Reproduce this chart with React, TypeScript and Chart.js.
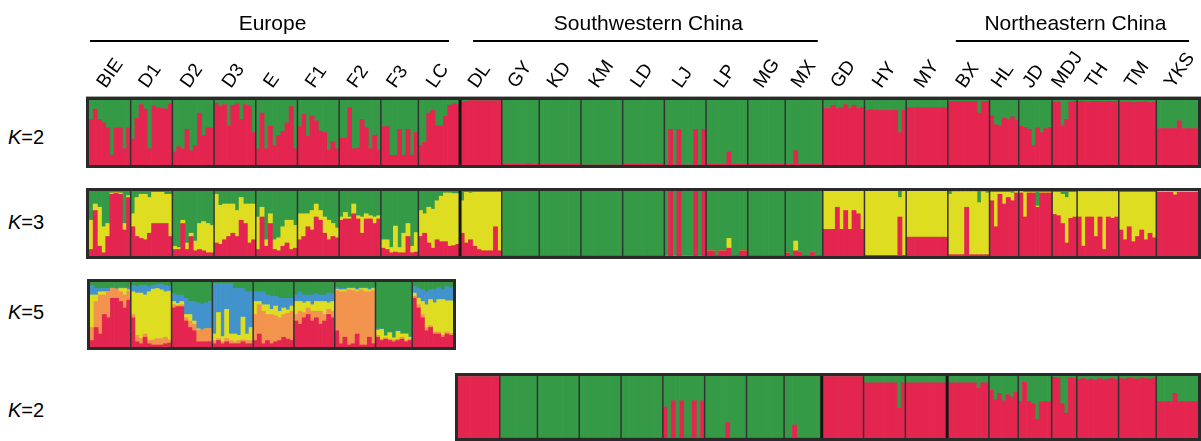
import React, { useEffect, useRef } from "react";
import { Chart, registerables } from "chart.js";

Chart.register(...registerables);

// ---------------- populations / groups ----------------
const EUROPE = ["BIE", "D1", "D2", "D3", "E", "F1", "F2", "F3", "LC"];
const SW_CHINA = ["DL", "GY", "KD", "KM", "LD", "LJ", "LP", "MG", "MX"];
const CENTRAL = ["GD", "HY", "MY"];
const NE_CHINA = ["BX", "HL", "JD", "MDJ", "TH", "TM", "YKS"];
const ALL_POPS = [...EUROPE, ...SW_CHINA, ...CENTRAL, ...NE_CHINA];
const CHINA_POPS = [...SW_CHINA, ...CENTRAL, ...NE_CHINA];

const GROUP_LABELS = ["Europe", "Southwestern China", "Northeastern China"];
const GROUP_FIRST = ["BIE", "DL", "BX"];
const GROUP_LAST = ["LC", "MX", "YKS"];

const ROW_K = ["2", "3", "5", "2"];

// ---------------- membership values (% per individual, per population) ----------------
// K=2, all populations: red cluster (green = remainder)
const K2_RED = [
  [70, 86, 70, 65, 57, 15, 57, 57, 25, 57], // BIE
  [40, 72, 93, 86, 25, 91, 88, 87, 86, 94], // D1
  [20, 28, 25, 55, 22, 30, 80, 45, 57, 57], // D2
  [95, 90, 93, 60, 92, 94, 70, 93, 91, 50], // D3
  [25, 80, 25, 60, 30, 45, 52, 65, 90, 25], // E
  [59, 78, 44, 76, 68, 52, 50, 23, 36, 25], // F1
  [41, 41, 88, 25, 26, 70, 57, 25, 46, 23], // F2
  [59, 59, 15, 15, 55, 15, 55, 15, 50], // F3
  [30, 35, 80, 84, 60, 60, 75, 92, 94, 93], // LC
  [97, 98, 99, 99, 99, 99, 99, 99, 99, 99], // DL
  [1, 1, 1, 1, 1, 1, 2, 1, 1], // GY
  [1, 1, 1, 1, 1, 1, 1, 1, 1, 1], // KD
  [0, 0, 0, 0, 0, 0, 0, 0, 0, 0], // KM
  [1, 1, 1, 1, 1, 1, 1, 1, 1, 1], // LD
  [0, 55, 0, 55, 0, 0, 0, 55, 0, 55], // LJ
  [1, 1, 1, 1, 1, 20, 1, 1, 1, 1], // LP
  [1, 1, 1, 1, 1, 1, 1, 1, 1], // MG
  [1, 1, 22, 1, 1, 1, 1, 1, 1], // MX
  [87, 87, 92, 87, 88, 93, 87, 92, 87, 88], // GD
  [84, 85, 84, 84, 84, 84, 84, 84, 50, 84], // HY
  [88, 88, 88, 88, 88, 88, 88, 88, 88, 88], // MY
  [98, 98, 98, 98, 98, 98, 98, 80, 98, 98], // BX
  [76, 62, 60, 72, 70, 74, 69], // HL
  [60, 58, 55, 30, 57, 50, 56, 58], // JD
  [97, 97, 60, 70, 97, 98], // MDJ
  [98, 98, 97, 98, 98, 98, 97, 98, 98, 98], // TH
  [97, 97, 97, 96, 97, 97, 97, 96, 97], // TM
  [56, 56, 56, 56, 56, 68, 56, 56, 56, 56], // YKS
];

// K=3, all populations: red and yellow clusters (green = remainder)
const K3_RED = [
  [10, 70, 15, 5, 30, 95, 97, 95, 40, 90],
  [45, 30, 27, 25, 35, 50, 50, 50, 50, 30],
  [10, 10, 50, 10, 30, 8, 10, 8, 5, 5],
  [20, 18, 25, 30, 35, 30, 55, 50, 20, 25],
  [10, 60, 15, 50, 10, 8, 15, 20, 10, 12],
  [25, 30, 45, 40, 60, 55, 35, 25, 30, 28],
  [55, 57, 57, 65, 57, 35, 57, 57, 50, 57],
  [12, 10, 5, 6, 5, 5, 30, 5, 6],
  [30, 35, 20, 12, 25, 22, 22, 15, 16, 18],
  [35, 20, 25, 15, 10, 8, 8, 8, 45, 8],
  [1, 1, 1, 1, 1, 1, 1, 1, 1],
  [1, 1, 1, 1, 1, 1, 1, 1, 1, 1],
  [1, 1, 1, 1, 1, 1, 1, 1, 1, 1],
  [1, 1, 1, 1, 1, 1, 1, 1, 1, 1],
  [0, 100, 0, 100, 0, 0, 0, 100, 0, 100],
  [8, 8, 1, 8, 8, 12, 1, 1, 8, 8],
  [1, 1, 1, 1, 1, 1, 1, 1, 1],
  [5, 1, 8, 6, 1, 1, 6, 1, 1],
  [41, 41, 41, 75, 41, 70, 41, 70, 65, 41],
  [1, 1, 1, 1, 1, 1, 1, 1, 60, 1],
  [29, 29, 29, 29, 29, 29, 29, 29, 29, 29],
  [2, 2, 2, 2, 75, 2, 2, 2, 2, 2],
  [85, 45, 95, 80, 90, 85, 97],
  [97, 60, 97, 97, 75, 97, 97, 97],
  [64, 62, 50, 20, 58, 60],
  [60, 15, 60, 60, 30, 60, 10, 60, 58, 60],
  [40, 25, 45, 22, 30, 40, 25, 35, 28],
  [98, 98, 98, 98, 94, 98, 98, 98, 98, 98],
];
const K3_YELLOW = [
  [45, 10, 60, 40, 20, 2, 1, 2, 10, 3],
  [20, 60, 68, 70, 55, 48, 48, 48, 45, 65],
  [5, 3, 5, 10, 5, 15, 40, 45, 45, 42],
  [75, 60, 55, 50, 45, 40, 35, 30, 60, 55],
  [50, 15, 10, 15, 15, 20, 30, 35, 45, 35],
  [40, 35, 20, 30, 20, 15, 25, 30, 20, 15],
  [5, 10, 3, 15, 5, 25, 8, 5, 10, 5],
  [13, 15, 8, 40, 8, 30, 20, 10, 30],
  [40, 30, 55, 60, 60, 70, 75, 82, 80, 78],
  [50, 78, 72, 83, 88, 90, 90, 90, 53, 90],
  [0, 0, 0, 0, 0, 0, 0, 0, 0],
  [0, 0, 0, 0, 0, 0, 0, 0, 0, 0],
  [0, 0, 0, 0, 0, 0, 0, 0, 0, 0],
  [0, 0, 0, 0, 0, 0, 0, 0, 0, 0],
  [0, 0, 0, 0, 0, 0, 0, 0, 0, 0],
  [0, 0, 0, 0, 0, 15, 0, 0, 0, 0],
  [0, 0, 0, 0, 0, 0, 0, 0, 0],
  [0, 0, 15, 0, 0, 0, 0, 0, 0],
  [59, 59, 59, 25, 59, 30, 59, 30, 35, 59],
  [99, 99, 99, 99, 99, 99, 99, 99, 30, 99],
  [71, 71, 71, 71, 71, 71, 71, 71, 71, 71],
  [93, 97, 97, 97, 24, 97, 97, 80, 97, 95],
  [13, 53, 3, 18, 8, 12, 2],
  [2, 38, 1, 1, 2, 1, 1, 1],
  [34, 36, 45, 70, 40, 38],
  [39, 84, 39, 39, 69, 39, 89, 39, 41, 39],
  [58, 73, 53, 76, 68, 58, 73, 63, 70],
  [1, 1, 1, 1, 5, 1, 1, 1, 1, 1],
];

// K=5, Europe only: red, orange, yellow, blue (green = remainder)
const K5_RED = [
  [10, 30, 20, 50, 45, 75, 75, 70, 60, 72],
  [45, 8, 5, 15, 5, 3, 3, 3, 5, 6],
  [60, 62, 62, 40, 30, 25, 8, 8, 8, 8],
  [5, 10, 5, 8, 5, 5, 5, 8, 5, 5],
  [10, 20, 5, 10, 5, 8, 10, 15, 12, 10],
  [40, 35, 45, 50, 40, 45, 35, 40, 50, 45],
  [25, 5, 15, 3, 5, 20, 3, 3, 15, 5],
  [15, 10, 12, 10, 8, 10, 12, 8, 10],
  [75, 60, 45, 25, 30, 20, 20, 15, 20, 18],
];
const K5_ORANGE = [
  [20, 40, 60, 30, 40, 15, 14, 15, 20, 14],
  [5, 10, 8, 5, 5, 8, 10, 10, 10, 5],
  [5, 2, 3, 5, 10, 10, 18, 18, 20, 20],
  [5, 3, 3, 5, 5, 3, 5, 3, 5, 5],
  [40, 45, 50, 40, 45, 40, 35, 35, 40, 45],
  [10, 20, 8, 10, 15, 10, 20, 10, 8, 10],
  [62, 80, 70, 85, 82, 65, 85, 82, 70, 82],
  [3, 2, 2, 2, 3, 2, 3, 2, 2],
  [3, 5, 5, 5, 3, 3, 3, 3, 3, 3],
];
const K5_YELLOW = [
  [50, 10, 5, 5, 0, 0, 0, 5, 10, 2],
  [35, 65, 70, 60, 75, 78, 77, 75, 70, 75],
  [5, 3, 5, 5, 10, 5, 2, 0, 0, 0],
  [10, 40, 8, 45, 10, 12, 8, 35, 10, 20],
  [20, 5, 10, 15, 8, 15, 10, 10, 5, 8],
  [20, 15, 15, 10, 10, 15, 15, 20, 10, 15],
  [2, 3, 3, 2, 3, 3, 2, 5, 3, 3],
  [8, 15, 3, 10, 3, 12, 5, 10, 3],
  [5, 10, 20, 35, 40, 45, 50, 55, 48, 50],
];
const K5_BLUE = [
  [15, 10, 5, 5, 5, 2, 1, 2, 2, 3],
  [10, 10, 12, 15, 8, 6, 6, 8, 10, 8],
  [12, 13, 10, 25, 20, 30, 40, 40, 40, 42],
  [78, 45, 82, 40, 78, 70, 72, 44, 65, 55],
  [15, 15, 20, 15, 20, 15, 20, 15, 18, 12],
  [10, 15, 12, 10, 15, 12, 10, 10, 15, 12],
  [3, 2, 2, 2, 2, 2, 2, 2, 2, 2],
  [2, 1, 1, 1, 1, 1, 1, 1, 1],
  [10, 15, 18, 20, 15, 20, 18, 15, 22, 20],
];

// K=2, China only: red cluster (green = remainder)
const K2_CHINA_RED = [
  [99, 99, 99, 99, 99, 99, 99, 99, 99, 99], // DL
  [1, 1, 1, 1, 1, 1, 1, 1, 1], // GY
  [1, 1, 1, 1, 1, 1, 1, 1, 1, 1], // KD
  [1, 1, 1, 1, 1, 1, 1, 1, 1, 1], // KM
  [1, 1, 1, 1, 1, 1, 1, 1, 1, 1], // LD
  [50, 0, 60, 0, 60, 0, 0, 60, 0, 60], // LJ
  [1, 1, 1, 1, 1, 25, 1, 1, 1, 1], // LP
  [1, 1, 1, 1, 1, 1, 1, 1, 1], // MG
  [1, 1, 21, 1, 1, 1, 1, 1, 1], // MX
  [99, 99, 99, 99, 99, 99, 99, 99, 99, 99], // GD
  [89, 89, 89, 89, 89, 89, 89, 89, 48, 89], // HY
  [89, 89, 89, 89, 89, 89, 89, 89, 89, 89], // MY
  [89, 89, 89, 89, 89, 89, 89, 80, 89, 89], // BX
  [77, 62, 72, 60, 70, 66, 74], // HL
  [59, 90, 59, 55, 30, 58, 59, 58], // JD
  [98, 97, 55, 40, 97, 96], // MDJ
  [94, 96, 94, 95, 93, 96, 94, 95, 96, 94], // TH
  [96, 95, 97, 96, 95, 97, 96, 95, 96], // TM
  [59, 59, 59, 59, 72, 59, 59, 59, 59, 59], // YKS
];

// ---------------- styles ----------------
const RED = "#E3254F";
const GREEN = "#359A46";
const YELLOW = "#DEDD21";
const BLUE = "#4293CC";
const ORANGE = "#F2944E";
const FONT = '"Liberation Sans", Arial, Helvetica, sans-serif';
const GROUP_INSET = [
  [1, 11],
  [13, 5],
  [8, 9],
];

const remainder = (...parts: number[][][]) =>
  parts[0].map((pop, pi) =>
    pop.map((_, i) => Math.max(0, 100 - parts.reduce((s, p) => s + p[pi][i], 0)))
  );

type Series = { color: string; values: number[][] };

type RowProps = {
  pops: string[];
  series: Series[];
  left: number;
  top: number;
  width: number;
  height: number;
  padTop?: number;
  thickBefore?: string[];
  header?: boolean;
};

function StructureRow({
  pops,
  series,
  left,
  top,
  width,
  height,
  padTop = 3,
  thickBefore = [],
  header = false,
}: RowProps) {
  const ref = useRef<HTMLCanvasElement>(null);

  useEffect(() => {
    const canvas = ref.current;
    if (!canvas) return;
    const counts = series[0].values.map((v) => v.length);
    const labels = pops.flatMap((p, pi) =>
      Array.from({ length: counts[pi] }, (_, i) => `${p} ${i + 1}`)
    );
    const starts: number[] = [];
    let acc = 0;
    counts.forEach((n) => {
      starts.push(acc);
      acc += n;
    });

    const framePlugin = {
      id: "structureFrame",
      afterDraw(chart: any) {
        const { ctx, chartArea: a } = chart;
        const x = chart.scales.x;
        const step = x.getPixelForValue(1) - x.getPixelForValue(0);
        const edgeL = (pi: number) => x.getPixelForValue(starts[pi]) - step / 2;
        const edgeR = (pi: number) =>
          x.getPixelForValue(starts[pi] + counts[pi] - 1) + step / 2;
        ctx.save();
        for (let pi = 1; pi < pops.length; pi++) {
          const px = edgeL(pi);
          const thick = thickBefore.includes(pops[pi]);
          ctx.beginPath();
          ctx.strokeStyle = thick ? "#151515" : "#333333";
          ctx.lineWidth = thick ? 3 : 1.5;
          ctx.moveTo(px, a.top);
          ctx.lineTo(px, a.bottom);
          ctx.stroke();
        }
        ctx.lineWidth = 3.4;
        ctx.strokeStyle = "#2a2a2a";
        ctx.strokeRect(
          a.left - 1.7,
          a.top - 1.7,
          a.right - a.left + 3.4,
          a.bottom - a.top + 3.4
        );

        if (header) {
          ctx.fillStyle = "#000";
          ctx.font = `19px ${FONT}`;
          ctx.textAlign = "left";
          ctx.textBaseline = "alphabetic";
          pops.forEach((p, pi) => {
            const cx = (edgeL(pi) + edgeR(pi)) / 2;
            ctx.save();
            ctx.translate(cx - 4, 89);
            ctx.rotate((-55 * Math.PI) / 180);
            ctx.fillText(p, 0, 0);
            ctx.restore();
          });
          ctx.font = `21px ${FONT}`;
          ctx.textAlign = "center";
          GROUP_LABELS.forEach((g, gi) => {
            const l = edgeL(pops.indexOf(GROUP_FIRST[gi])) + GROUP_INSET[gi][0];
            const r = edgeR(pops.indexOf(GROUP_LAST[gi])) - GROUP_INSET[gi][1];
            ctx.beginPath();
            ctx.lineWidth = 2.2;
            ctx.strokeStyle = "#000";
            ctx.moveTo(l, 41);
            ctx.lineTo(r, 41);
            ctx.stroke();
            ctx.fillText(g, (l + r) / 2 + 3, 30);
          });
        }
        ctx.restore();
      },
    };

    const chart = new Chart(canvas, {
      type: "bar",
      data: {
        labels,
        datasets: series.map((s) => ({
          data: s.values.flat(),
          backgroundColor: s.color,
          borderWidth: 0,
          barPercentage: 1,
          categoryPercentage: 1,
          stack: "q",
        })),
      },
      options: {
        responsive: false,
        animation: false,
        devicePixelRatio: 1,
        events: [],
        layout: { padding: { left: 3, right: 3, top: padTop, bottom: 3 } },
        plugins: { legend: { display: false }, tooltip: { enabled: false } },
        scales: {
          x: { stacked: true, display: false },
          y: { stacked: true, display: false, min: 0, max: 100 },
        },
      },
      plugins: [framePlugin],
    });
    return () => chart.destroy();
  }, []);

  return (
    <canvas
      ref={ref}
      width={width}
      height={height}
      style={{ position: "absolute", left, top, width, height }}
    />
  );
}

const K_TOPS = [127, 212, 302, 400];

export default function App() {
  useEffect(() => {
    document.body.style.margin = "0";
    document.body.style.overflow = "hidden";
  }, []);

  const k2Green = remainder(K2_RED);
  const k3Green = remainder(K3_RED, K3_YELLOW);
  const k5Green = remainder(K5_RED, K5_ORANGE, K5_YELLOW, K5_BLUE);
  const k2ChinaGreen = remainder(K2_CHINA_RED);

  return (
    <div
      style={{
        position: "relative",
        width: 1201,
        height: 441,
        background: "#fff",
        overflow: "hidden",
        fontFamily: FONT,
      }}
    >
      <StructureRow
        pops={ALL_POPS}
        series={[
          { color: RED, values: K2_RED },
          { color: GREEN, values: k2Green },
        ]}
        left={86}
        top={0}
        width={1115}
        height={168}
        padTop={100}
        thickBefore={["DL"]}
        header
      />
      <StructureRow
        pops={ALL_POPS}
        series={[
          { color: RED, values: K3_RED },
          { color: YELLOW, values: K3_YELLOW },
          { color: GREEN, values: k3Green },
        ]}
        left={86}
        top={188}
        width={1115}
        height={71}
        thickBefore={["DL"]}
      />
      <StructureRow
        pops={EUROPE}
        series={[
          { color: RED, values: K5_RED },
          { color: ORANGE, values: K5_ORANGE },
          { color: YELLOW, values: K5_YELLOW },
          { color: BLUE, values: K5_BLUE },
          { color: GREEN, values: k5Green },
        ]}
        left={87}
        top={279}
        width={369}
        height={71}
      />
      <StructureRow
        pops={CHINA_POPS}
        series={[
          { color: RED, values: K2_CHINA_RED },
          { color: GREEN, values: k2ChinaGreen },
        ]}
        left={455}
        top={373}
        width={746}
        height={68}
        thickBefore={["GD", "BX"]}
      />
      {ROW_K.map((k, i) => (
        <div
          key={i}
          style={{
            position: "absolute",
            left: 8,
            top: K_TOPS[i],
            fontSize: 20,
            lineHeight: "20px",
            color: "#000",
            whiteSpace: "nowrap",
          }}
        >
          <i>K</i>=<span>{k}</span>
        </div>
      ))}
    </div>
  );
}
